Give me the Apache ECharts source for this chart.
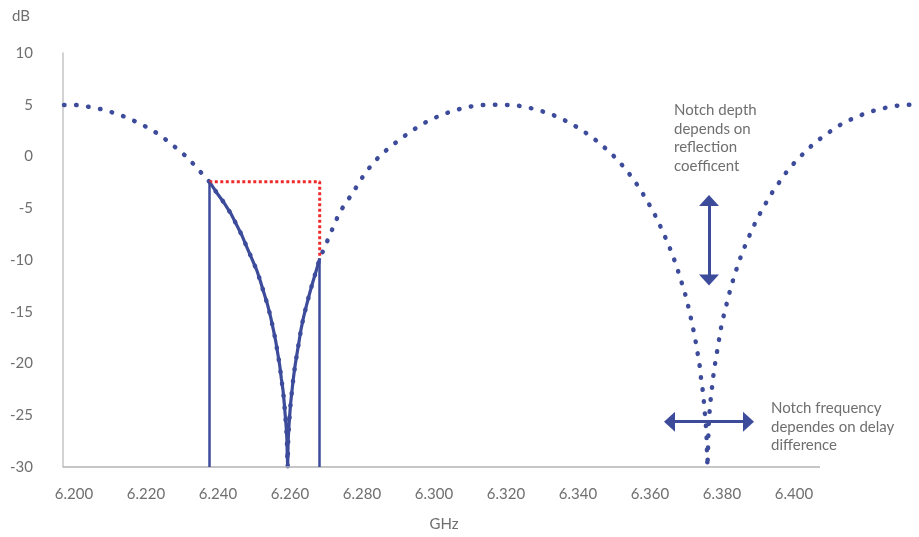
<!DOCTYPE html>
<html>
<head>
<meta charset="utf-8">
<script src="https://cdn.jsdelivr.net/npm/echarts@6/dist/echarts.min.js"></script>
<style>
html,body{margin:0;padding:0;background:#fff;}
#chart{width:919px;height:537px;}
</style>
</head>
<body>
<div id="chart"></div>
<script>
// Frequency (GHz) of the sampled response curve
const freqGHz = [
  6.19722, 6.20047, 6.20397, 6.20731, 6.21056, 6.21381, 6.21694, 6.22000, 6.22297, 6.22575,
  6.22842, 6.23103, 6.23342, 6.23564, 6.23758, 6.23964, 6.24147, 6.24353, 6.24519, 6.24658,
  6.24797, 6.24936, 6.25075, 6.25167, 6.25283, 6.25381, 6.25464, 6.25536, 6.25606, 6.25661,
  6.25717, 6.25758, 6.25806, 6.25839, 6.25867, 6.25894, 6.25914, 6.25922, 6.25936, 6.25942,
  6.25950, 6.25969, 6.25992, 6.26019, 6.26056, 6.26094, 6.26139, 6.26194, 6.26250, 6.26306,
  6.26375, 6.26458, 6.26542, 6.26639, 6.26736, 6.26825, 6.26972, 6.27103, 6.27242, 6.27369,
  6.27569, 6.27764, 6.27931, 6.28111, 6.28333, 6.28583, 6.28861, 6.29139, 6.29417, 6.29694,
  6.30008, 6.30325, 6.30647, 6.30981, 6.31325, 6.31764, 6.32194, 6.32528, 6.32861, 6.33186,
  6.33508, 6.33814, 6.34103, 6.34389, 6.34647, 6.34908, 6.35153, 6.35375, 6.35583, 6.35769,
  6.35944, 6.36111, 6.36258, 6.36397, 6.36536, 6.36658, 6.36769, 6.36869, 6.36972, 6.37056,
  6.37131, 6.37203, 6.37269, 6.37325, 6.37381, 6.37417, 6.37464, 6.37500, 6.37528, 6.37556,
  6.37575, 6.37583, 6.37597, 6.37608, 6.37617, 6.37628, 6.37647, 6.37675, 6.37714, 6.37750,
  6.37797, 6.37853, 6.37908, 6.37964, 6.38036, 6.38119, 6.38203, 6.38297, 6.38397, 6.38508,
  6.38630, 6.38769, 6.38908, 6.39064, 6.39231, 6.39408, 6.39603, 6.39797, 6.40028, 6.40269,
  6.40519, 6.40786, 6.41064, 6.41353, 6.41667, 6.41981, 6.42306, 6.42639, 6.42992, 6.43333
];
// Received level (dB) at each frequency
const levelDb = [
  4.98, 4.98, 4.81, 4.59, 4.27, 3.88, 3.40, 2.88, 2.27, 1.57,
  0.82, 0.05, -0.82, -1.69, -2.43, -3.50, -4.37, -5.49, -6.62, -7.58,
  -8.72, -9.84, -10.97, -11.93, -13.26, -14.38, -15.54, -16.70, -17.89, -19.05,
  -20.24, -21.43, -22.59, -23.79, -24.98, -26.13, -27.36, -28.55, -30.00, -28.55,
  -27.36, -26.13, -24.98, -23.79, -22.59, -21.43, -20.24, -19.05, -17.89, -16.70,
  -15.54, -14.38, -13.26, -12.06, -10.94, -9.84, -8.72, -7.58, -6.52, -5.43,
  -4.40, -3.40, -2.43, -1.50, -0.53, 0.34, 1.14, 1.88, 2.56, 3.17,
  3.72, 4.17, 4.52, 4.81, 4.98, 5.00, 4.98, 4.81, 4.52, 4.17,
  3.72, 3.17, 2.56, 1.88, 1.14, 0.34, -0.53, -1.45, -2.42, -3.40,
  -4.43, -5.46, -6.52, -7.58, -8.72, -9.81, -10.94, -12.06, -13.22, -14.38,
  -15.54, -16.70, -17.89, -19.05, -20.24, -21.43, -22.59, -23.79, -24.98, -26.13,
  -27.36, -28.55, -30.00, -28.55, -27.36, -26.13, -24.98, -23.79, -22.59, -21.43,
  -20.24, -19.05, -17.89, -16.70, -15.54, -14.38, -13.22, -12.06, -10.94, -9.81,
  -8.72, -7.58, -6.52, -5.46, -4.43, -3.40, -2.43, -1.47, -0.53, 0.31,
  1.14, 1.88, 2.56, 3.21, 3.72, 4.17, 4.52, 4.78, 4.98, 5.00
];
// Channel band edges (GHz)
const bandEdgesGHz = [6.23758, 6.26825];
// X tick labels (GHz)
const xTickValues = [6.200, 6.220, 6.240, 6.260, 6.280, 6.300, 6.320, 6.340, 6.360, 6.380, 6.400];
// X axis line extent (GHz)
const xAxisLineGHz = [6.196944, 6.407222];
// Y axis range / step (dB)
const yMin = -30, yMax = 10, yStep = 5;

const EPS = 1e-9;
const curve = freqGHz.map((f, i) => [f, levelDb[i]]);
const inBand = curve.filter(p => p[0] >= bandEdgesGHz[0] - EPS && p[0] <= bandEdgesGHz[1] + EPS);
const edgeLevel = bandEdgesGHz.map(e => levelDb[freqGHz.findIndex(f => Math.abs(f - e) < 1e-6)]);
const redPath = [
  [bandEdgesGHz[0], edgeLevel[0]],
  [bandEdgesGHz[1], edgeLevel[0]],
  [bandEdgesGHz[1], edgeLevel[1]]
];

const BLUE = '#3d4b9b';
const GREY_TEXT = '#6f6f6f';
const FONT = 'Lato, "Open Sans", sans-serif';

const chart = echarts.init(document.getElementById('chart'), null, {renderer: 'canvas'});
chart.setOption({
  animation: false,
  backgroundColor: '#ffffff',
  grid: {left: 63, right: 4, top: 53, bottom: 70, containLabel: false},
  xAxis: {
    type: 'value',
    min: 6.196944,
    max: 6.433611,
    axisLine: {show: false},
    axisTick: {show: false},
    splitLine: {show: false},
    axisLabel: {
      customValues: xTickValues,
      formatter: v => Number(v).toFixed(3),
      color: GREY_TEXT, fontFamily: FONT, fontSize: 15, margin: 20
    }
  },
  yAxis: {
    type: 'value',
    min: yMin, max: yMax, interval: yStep,
    axisLine: {show: true, onZero: false, lineStyle: {color: '#c4c4c4', width: 1.5}},
    axisTick: {show: false},
    splitLine: {show: false},
    axisLabel: {color: GREY_TEXT, fontFamily: FONT, fontSize: 15, margin: 30}
  },
  graphic: [
    {type: 'text', x: 21, y: 16, style: {text: 'dB', fill: GREY_TEXT, font: '15px ' + FONT, align: 'center', verticalAlign: 'middle'}},
    {type: 'text', x: 444, y: 524, style: {text: 'GHz', fill: GREY_TEXT, font: '15px ' + FONT, align: 'center', verticalAlign: 'middle'}},
    {type: 'text', x: 674, y: 101, style: {text: 'Notch depth\ndepends on\nreflection\ncoefficent', fill: GREY_TEXT, font: '15px ' + FONT, lineHeight: 18.5, align: 'left', verticalAlign: 'top'}},
    {type: 'text', x: 771, y: 399, style: {text: 'Notch frequency\ndependes on delay\ndifference', fill: GREY_TEXT, font: '15px ' + FONT, lineHeight: 18.5, align: 'left', verticalAlign: 'top'}}
  ],
  series: [
    {
      name: 'axis',
      type: 'line',
      data: [],
      symbol: 'none',
      z: 1,
      markLine: {
        silent: true,
        symbol: ['none', 'none'],
        label: {show: false},
        lineStyle: {color: '#b3b3b3', width: 1.5, type: 'solid'},
        data: [[{coord: [xAxisLineGHz[0], yMin]}, {coord: [xAxisLineGHz[1], yMin]}]]
      }
    },
    {
      name: 'response',
      type: 'line',
      data: curve,
      symbol: 'none',
      showSymbol: false,
      lineStyle: {color: BLUE, width: 4.5, type: [0.5, 11.6], cap: 'round'},
      z: 2
    },
    {
      name: 'in-band',
      type: 'line',
      data: inBand,
      symbol: 'none',
      showSymbol: false,
      lineStyle: {color: BLUE, width: 3.2, join: 'round'},
      z: 3,
      markLine: {
        silent: true,
        symbol: ['none', 'none'],
        label: {show: false},
        lineStyle: {color: BLUE, width: 2.5, type: 'solid'},
        data: bandEdgesGHz.map((e, i) => [{coord: [e, edgeLevel[i]]}, {coord: [e, yMin]}])
      }
    },
    {
      name: 'flatness',
      type: 'line',
      data: redPath,
      symbol: 'none',
      showSymbol: false,
      lineStyle: {color: '#ee2a2a', width: 3, type: [3, 2.5], cap: 'butt'},
      z: 4
    },
    {
      name: 'annotations',
      type: 'line',
      data: [],
      symbol: 'none',
      z: 5,
      markLine: {
        silent: true,
        symbol: ['triangle', 'triangle'],
        symbolSize: [20, 11],
        label: {show: false},
        lineStyle: {color: BLUE, width: 3, type: 'solid'},
        data: [
          [{coord: [6.37639, -4.25]}, {coord: [6.37639, -11.93]}],
          [{coord: [6.36542, -25.62]}, {coord: [6.38736, -25.62]}]
        ]
      }
    }
  ]
});
</script>
</body>
</html>
